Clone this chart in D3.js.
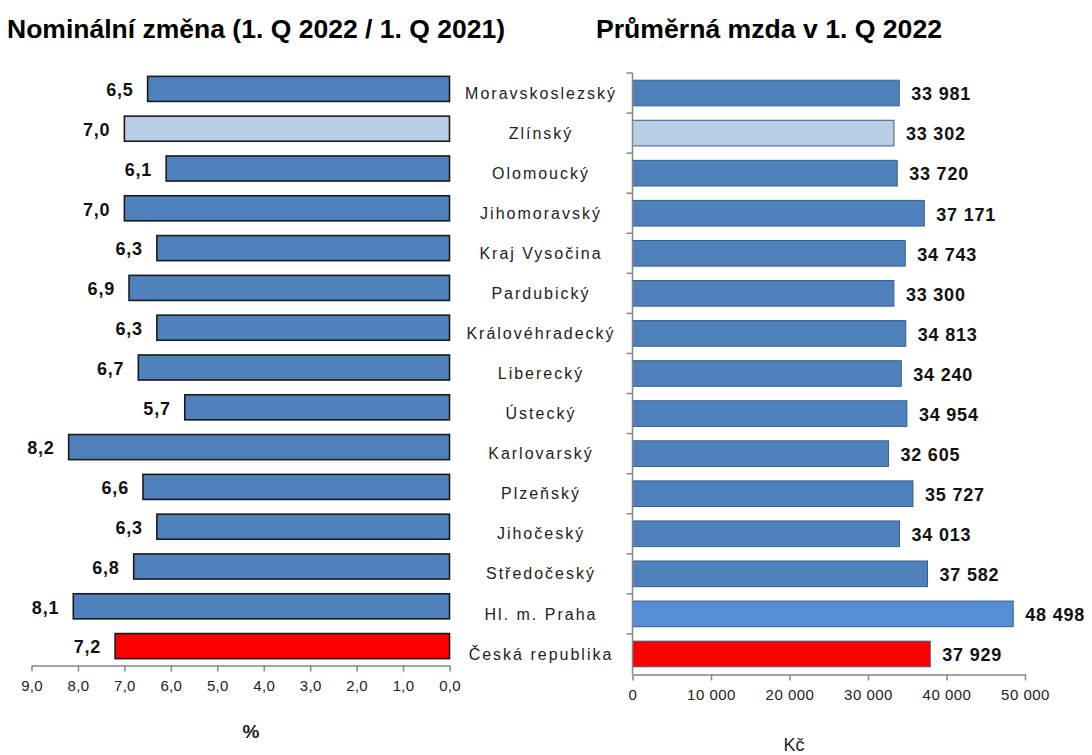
<!DOCTYPE html>
<html>
<head>
<meta charset="utf-8">
<script src="https://cdn.jsdelivr.net/npm/d3@7"></script>
<style>
body { margin: 0; background: #fff; }
text { font-family: "Liberation Sans", Arial, sans-serif; }
</style>
</head>
<body>
<div id="graf"></div>
<script>
let width = 1092,
height = 755;

// data
let kraje = ["Moravskoslezský", "Zlínský", "Olomoucký", "Jihomoravský", "Kraj Vysočina",
  "Pardubický", "Královéhradecký", "Liberecký", "Ústecký", "Karlovarský",
  "Plzeňský", "Jihočeský", "Středočeský", "Hl. m. Praha", "Česká republika"];
let zmena = [6.5, 7.0, 6.1, 7.0, 6.3, 6.9, 6.3, 6.7, 5.7, 8.2, 6.6, 6.3, 6.8, 8.1, 7.2];
let mzda = [33981, 33302, 33720, 37171, 34743, 33300, 34813, 34240, 34954, 32605,
  35727, 34013, 37582, 48498, 37929];
let zmenaTicks = [9, 8, 7, 6, 5, 4, 3, 2, 1, 0];
let mzdaTicks = [0, 10000, 20000, 30000, 40000, 50000];

let cz = d3.formatLocale({decimal: ",", thousands: " ", grouping: [3], currency: ["", " Kč"]});
let f1 = cz.format(".1f");
let fk = cz.format(",d");

function barvaL(d) {
  if (d == "Česká republika") return "#ff0000";
  if (d == "Zlínský") return "#b9cde5";
  return "#4f81bd";
}
function barvaR(d) {
  if (d == "Hl. m. Praha") return "#558ed5";
  return barvaL(d);
}

let svg = d3.select("#graf").append("svg")
.attr("width", width)
.attr("height", height);

// titles
svg.append("text").attr("x", 7).attr("y", 38)
.attr("font-size", 26).attr("font-weight", "bold").attr("fill", "#000")
.attr("textLength", 498).attr("lengthAdjust", "spacingAndGlyphs")
.text("Nominální změna (1. Q 2022 / 1. Q 2021)");
svg.append("text").attr("x", 596).attr("y", 38)
.attr("font-size", 26).attr("font-weight", "bold").attr("fill", "#000")
.attr("textLength", 346).attr("lengthAdjust", "spacingAndGlyphs")
.text("Průměrná mzda v 1. Q 2022");

// ---- left chart ----
let xL = d3.scaleLinear().domain([0, 9]).range([449.5, 31.5]);
let yL = d3.scaleBand().domain(kraje).range([69, 666]).paddingInner(0.37).paddingOuter(0.185);

let levy = svg.append("g");

levy.selectAll(".barL")
.data(kraje)
.enter().append("rect")
.classed("barL", true)
.attr("x", (d, i) => xL(zmena[i]))
.attr("y", d => yL(d))
.attr("width", (d, i) => xL(0) - xL(zmena[i]))
.attr("height", yL.bandwidth())
.attr("fill", barvaL)
.attr("stroke", "#1a1a1a")
.attr("stroke-width", 1.6);

levy.selectAll(".valL")
.data(kraje)
.enter().append("text")
.classed("valL", true)
.attr("x", (d, i) => xL(zmena[i]) - 14)
.attr("y", d => yL(d) + yL.bandwidth() / 2 + 1)
.attr("dy", "0.35em")
.attr("text-anchor", "end")
.attr("font-size", 18).attr("font-weight", "bold").attr("fill", "#111")
.attr("letter-spacing", 0.8)
.text((d, i) => f1(zmena[i]));

let axL = levy.append("g")
.attr("transform", "translate(0,665.5)")
.call(d3.axisBottom(xL).tickValues(zmenaTicks).tickFormat(f1).tickSize(6).tickSizeOuter(0).tickPadding(9));
axL.select(".domain").attr("stroke", "#868686").attr("stroke-width", 1.5);
axL.selectAll(".tick line").attr("stroke", "#868686").attr("stroke-width", 1.5);
axL.selectAll(".tick text").attr("font-size", 15).attr("fill", "#222")
.attr("font-family", "Liberation Sans, Arial, sans-serif").attr("letter-spacing", 0.3);

levy.append("text").attr("x", 251).attr("y", 738)
.attr("text-anchor", "middle").attr("font-size", 19).attr("font-weight", "bold").attr("fill", "#222")
.text("%");

// ---- right chart ----
let xR = d3.scaleLinear().domain([0, 50000]).range([632.5, 1025]);
let yR = d3.scaleBand().domain(kraje).range([73, 674]).paddingInner(0.36).paddingOuter(0.18);

// category labels
svg.selectAll(".kraj")
.data(kraje)
.enter().append("text")
.classed("kraj", true)
.attr("x", 541)
.attr("y", d => yR(d) + yR.bandwidth() / 2)
.attr("dy", "0.35em")
.attr("text-anchor", "middle")
.attr("font-size", 16).attr("fill", "#222")
.attr("letter-spacing", 2)
.text(d => d);

let pravy = svg.append("g");

pravy.selectAll(".barR")
.data(kraje)
.enter().append("rect")
.classed("barR", true)
.attr("x", xR(0))
.attr("y", d => yR(d))
.attr("width", (d, i) => xR(mzda[i]) - xR(0))
.attr("height", yR.bandwidth())
.attr("fill", barvaR)
.attr("stroke", "#385d8a")
.attr("stroke-width", 1);

pravy.selectAll(".valR")
.data(kraje)
.enter().append("text")
.classed("valR", true)
.attr("x", (d, i) => xR(mzda[i]) + 12)
.attr("y", d => yR(d) + yR.bandwidth() / 2 + 1)
.attr("dy", "0.35em")
.attr("font-size", 18).attr("font-weight", "bold").attr("fill", "#111")
.attr("letter-spacing", 0.8)
.text((d, i) => fk(mzda[i]));

let axR = pravy.append("g")
.attr("transform", "translate(0,674.5)")
.call(d3.axisBottom(xR).tickValues(mzdaTicks).tickFormat(fk).tickSize(6).tickSizeOuter(0).tickPadding(9));
axR.select(".domain").attr("stroke", "#868686").attr("stroke-width", 1.5);
axR.selectAll(".tick line").attr("stroke", "#868686").attr("stroke-width", 1.5);
axR.selectAll(".tick text").attr("font-size", 15).attr("fill", "#222")
.attr("font-family", "Liberation Sans, Arial, sans-serif").attr("letter-spacing", 0.5);

// vertical category axis with ticks between bands
let hranice = kraje.map(d => yR(d) - yR.step() * yR.paddingInner() / 2);
hranice[0] = 73;
pravy.append("line")
.attr("x1", xR(0)).attr("x2", xR(0))
.attr("y1", 73).attr("y2", 674.5)
.attr("stroke", "#868686").attr("stroke-width", 1.5);
pravy.selectAll(".tickY")
.data(hranice)
.enter().append("line")
.classed("tickY", true)
.attr("x1", xR(0) - 6).attr("x2", xR(0))
.attr("y1", d => d).attr("y2", d => d)
.attr("stroke", "#868686").attr("stroke-width", 1.5);

pravy.append("text").attr("x", 794).attr("y", 751)
.attr("text-anchor", "middle").attr("font-size", 18).attr("fill", "#222")
.text("Kč");
</script>
</body>
</html>
